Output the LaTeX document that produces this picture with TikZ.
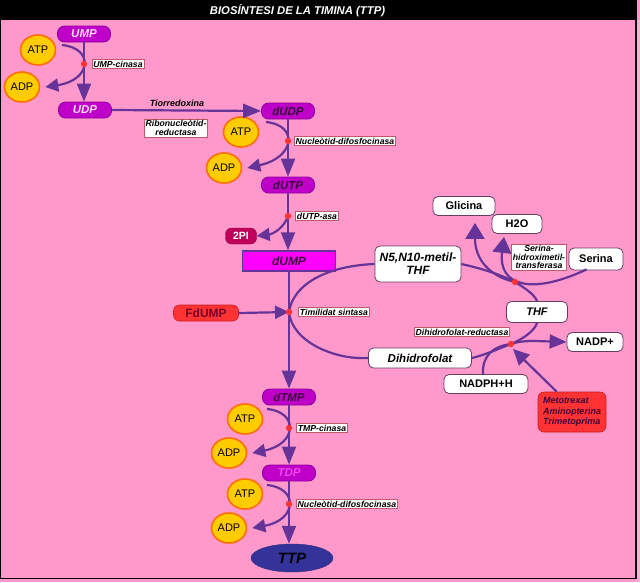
\documentclass[tikz,border=0pt]{standalone}
\usepackage{fontspec}
\setmainfont{Liberation Sans}
\usetikzlibrary{arrows.meta,shapes.geometric,calc}
\definecolor{bgpink}{RGB}{255,153,204}
\definecolor{bgpinkl}{RGB}{255,175,215}
\definecolor{pboxc}{RGB}{190,0,200}
\definecolor{pboxd}{RGB}{140,0,160}
\definecolor{darkp}{RGB}{60,0,60}
\definecolor{lightt}{RGB}{255,220,245}
\definecolor{tdpt}{RGB}{240,70,240}
\definecolor{coiny}{RGB}{255,204,0}
\definecolor{coino}{RGB}{255,110,0}
\definecolor{arrc}{RGB}{102,51,153}
\definecolor{dotc}{RGB}{255,51,51}
\definecolor{redc}{RGB}{255,51,51}
\definecolor{redd}{RGB}{200,30,30}
\definecolor{wboxd}{RGB}{100,60,100}
\definecolor{enzd}{RGB}{190,90,110}
\definecolor{magc}{RGB}{255,0,255}
\definecolor{pic}{RGB}{190,0,90}
\definecolor{ttpc}{RGB}{51,51,153}
\begin{document}
\begin{tikzpicture}[x=1pt,y=-1pt,
  pbox/.style={rounded corners=7pt, fill=pboxc, draw=pboxd, line width=0.8pt, minimum width=53pt, minimum height=16pt, inner sep=0pt, font=\fontsize{11.5}{12}\selectfont\bfseries\itshape, text=darkp},
  coin/.style={ellipse, fill=coiny, draw=coino, line width=1.6pt, minimum width=35pt, minimum height=30pt, inner sep=0pt, font=\fontsize{11}{12}\selectfont},
  wbox/.style={rounded corners=5pt, fill=white, draw=wboxd, line width=0.8pt, inner sep=0pt, font=\fontsize{11}{12}\selectfont\bfseries},
  enz/.style={fill=white, draw=enzd, line width=0.6pt, inner sep=1.3pt, font=\fontsize{8.7}{8.7}\selectfont\bfseries\itshape, align=center},
  rbox/.style={rounded corners=6pt, fill=redc, draw=redd, line width=0.6pt, inner sep=0pt},
  flow/.style={draw=arrc, line width=2.2pt},
  bigtip/.style={-{Triangle[length=18pt,width=14pt]}},
  midtip/.style={-{Triangle[length=14pt,width=13pt]}},
  hugetip/.style={-{Triangle[length=16pt,width=19pt]}},
  smalltip/.style={-{Triangle[length=13pt,width=13pt]}}
]
\useasboundingbox (0,0) rectangle (640,582);
\fill[bgpink] (0,0) rectangle (640,582);
\fill[bgpinkl] (636,20) rectangle (640,582);
\fill[black] (0,0) rectangle (637,20);
\node[text=white, font=\fontsize{11.3}{12}\selectfont\bfseries\itshape] (title) at (297.5,11) {BIOSÍNTESI DE LA TIMINA (TTP)};
\draw[black, line width=1.2pt] (0.6,20) -- (0.6,578.5) -- (636,578.5) -- (636,20);

% metabolite boxes
\node[pbox, text=lightt] (UMP) at (84,34) {UMP};
\node[pbox, text=lightt] (UDP) at (85,110) {UDP};
\node[pbox] (dUDP) at (288,111) {dUDP};
\node[pbox] (dUTP) at (288,185) {dUTP};
\node[pbox] (dTMP) at (289,397) {dTMP};
\node[pbox, text=tdpt] (TDP) at (289,473) {TDP};
\node[rounded corners=6pt, fill=pic, draw=pic!80!black, minimum width=31pt, minimum height=16pt, inner sep=0pt, text=white, font=\fontsize{10.5}{11}\selectfont\bfseries] (PI) at (241,236) {2PI};
\node[fill=magc, draw=arrc, line width=1.5pt, minimum width=93pt, minimum height=20pt, inner sep=0pt, text=darkp, font=\fontsize{12}{13}\selectfont\bfseries\itshape] (dUMP) at (289,261) {dUMP};
\node[ellipse, fill=ttpc, draw=ttpc!80!black, minimum width=82pt, minimum height=28pt, inner sep=0pt, font=\fontsize{15}{16}\selectfont\bfseries\itshape] (TTP) at (292,558) {TTP};

% coins
\node[coin] (ATPa) at (38,50) {ATP};
\node[coin] (ADPa) at (22,87) {ADP};
\node[coin] (ATPb) at (241,132) {ATP};
\node[coin] (ADPb) at (224,168) {ADP};
\node[coin] (ATPc) at (245,419) {ATP};
\node[coin] (ADPc) at (229,453) {ADP};
\node[coin] (ATPd) at (245,494) {ATP};
\node[coin] (ADPd) at (229,528) {ADP};

% white boxes
\node[wbox, minimum width=86pt, minimum height=36pt, align=center, font=\fontsize{12}{13}\selectfont\bfseries\itshape] (N5) at (418,264) {N5,N10-metil-\\THF};
\node[wbox, minimum width=103pt, minimum height=20pt, font=\fontsize{11.5}{12}\selectfont\bfseries\itshape] (DHF) at (420,358) {Dihidrofolat};
\node[wbox, minimum width=61pt, minimum height=21pt, font=\fontsize{11}{12}\selectfont\bfseries\itshape] (THF) at (537,312) {THF};
\node[wbox, minimum width=56pt, minimum height=19pt] (NADP) at (595,342) {NADP+};
\node[wbox, minimum width=84pt, minimum height=19pt] (NADPH) at (486,384) {NADPH+H};
\node[wbox, minimum width=62pt, minimum height=19pt] (Glicina) at (464,206) {Glicina};
\node[wbox, minimum width=50pt, minimum height=19pt] (H2O) at (517,224) {H2O};
\node[wbox, minimum width=54pt, minimum height=22pt] (Serina) at (596,259) {Serina};

% red boxes
\node[rbox, minimum width=65pt, minimum height=16pt, text=darkp!70!red, font=\fontsize{12}{13}\selectfont\bfseries] (FdUMP) at (206,313) {FdUMP};
\node[rbox, minimum width=68pt, minimum height=40pt, align=left, text=darkp, font=\fontsize{9}{10.5}\selectfont\bfseries\itshape] (Meto) at (572,412) {Metotrexat\\Aminopterina\\Trimetoprima};

% dots (named coordinates)
\coordinate (d1) at (84,64);
\coordinate (d2) at (288,141);
\coordinate (d3) at (288,216);
\coordinate (d4) at (289,312);
\coordinate (d5) at (515,282);
\coordinate (d6) at (511,344);
\coordinate (d7) at (289,428);
\coordinate (d8) at (289,504);
\coordinate (gtip) at ($(Glicina.south)+(11,7)$);
\coordinate (htip) at ($(H2O.south)+(-13,3)$);
\coordinate (sstart) at ($(Serina.south west)+(18,-1)$);
\coordinate (mtip) at (513,349);
\coordinate (mstart) at ($(Meto.north west)+(19,0)$);

% main chain
\draw[flow, bigtip] (UMP.south) -- (UMP.south |- UDP.north);
\draw[flow, bigtip] (UDP.east) -- (dUDP.west);
\draw[flow, bigtip] (dUDP.south) -- (dUTP.north);
\draw[flow, bigtip] (dUTP.south) -- (dUTP.south |- dUMP.north);
\draw[flow, bigtip] (dUMP.south) -- (dUMP.south |- dTMP.north);
\draw[flow, bigtip] (dTMP.south) -- (TDP.north);
\draw[flow, bigtip] (TDP.south) -- (TDP.south |- TTP.north);
\draw[flow, midtip] (FdUMP.east) -- (d4);

% ATP -> ADP
\foreach \d/\a in {d1/ADPa, d2/ADPb, d7/ADPc, d8/ADPd}{
  \draw[flow, smalltip] ($(\d)+(-22,-19)$) .. controls ($(\d)+(10,-16)$) and ($(\d)+(8,16)$) .. ($(\a.east)+(5,0)$);
}
\draw[flow, smalltip] (d3) .. controls (284,228) and (273,234) .. (PI.east);

% folate cycle
\draw[flow] (d4) .. controls (293,285) and (325,266) .. (N5.west);
\draw[flow] (d4) .. controls (292,342) and (335,360) .. (DHF.west);
\draw[flow] (N5.east) .. controls (488,270) and (503,276) .. (d5) .. controls (525,288) and (535,295) .. (THF.north);
\draw[flow, hugetip] (d5) .. controls (488,276) and (475,258) .. (gtip);
\draw[flow, hugetip] (sstart) .. controls (530,296) and (498,285) .. (htip);
\draw[flow] (DHF.east) .. controls (488,354) and (500,348) .. (d6) .. controls (525,338) and (535,330) .. (THF.south);
\draw[flow, -{Triangle[length=17pt,width=14pt]}] (d6) .. controls (522,340) and (535,341) .. (NADP.west);
\draw[flow] ([xshift=-3pt]NADPH.north) .. controls (482,355) and (494,346) .. (d6);
\draw[flow, -{Triangle[length=16pt,width=15pt]}] (mstart) -- (mtip);

% red dots
\foreach \d in {d1,d2,d3,d4,d5,d6,d7,d8}{\fill[dotc] (\d) circle (3.2pt);}

% enzyme labels
\node[enz] (e1) at (118,64) {UMP-cinasa};
\node[font=\fontsize{9}{10}\selectfont\bfseries\itshape] (tio) at (177,103) {Tiorredoxina};
\node[enz] (e2) at (176,128) {Ribonucleòtid-\\reductasa};
\node[enz] (e3) at (345,141) {Nucleòtid-difosfocinasa};
\node[enz] (e4) at (317,216) {dUTP-asa};
\node[enz] (e5) at (334,312) {Timilidat sintasa};
\node[enz] (e6) at (462,332) {Dihidrofolat-reductasa};
\node[enz] (e7) at (539,257) {Serina-\\hidroximetil-\\transferasa};
\node[enz] (e8) at (322,428) {TMP-cinasa};
\node[enz] (e9) at (347,504) {Nucleòtid-difosfocinasa};
\end{tikzpicture}
\end{document}
